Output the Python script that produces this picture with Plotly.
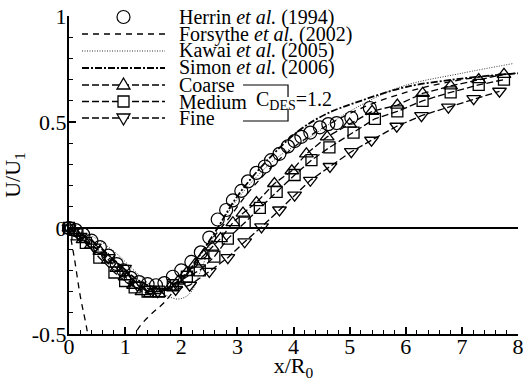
import plotly.graph_objects as go

# ---------------- data ----------------
herrin_x = [0, 0.12, 0.25, 0.4, 0.55, 0.7, 0.85, 0.97, 1.1, 1.25, 1.4, 1.55, 1.7, 1.85, 2.0, 2.18,
            2.35, 2.5, 2.65, 2.8, 2.92, 3.07, 3.19, 3.34, 3.49, 3.6, 3.75, 3.9, 4.02, 4.14, 4.3,
            4.47, 4.62, 4.77, 5.03, 5.36]
herrin_y = [0, -0.01, -0.03, -0.06, -0.09, -0.13, -0.17, -0.2, -0.235, -0.255, -0.265, -0.27, -0.26,
            -0.23, -0.2, -0.16, -0.115, -0.045, 0.04, 0.085, 0.13, 0.175, 0.22, 0.26, 0.29, 0.32,
            0.35, 0.385, 0.41, 0.43, 0.45, 0.475, 0.49, 0.495, 0.52, 0.566]

forsythe_x = [0, 0.1, 0.2, 0.3, 0.45, 0.7, 0.95, 1.22, 1.45, 1.7, 2.0, 2.4, 2.8, 3.3, 4.0, 5.0, 6.0, 7.0, 8.0]
forsythe_y = [0, -0.15, -0.32, -0.45, -0.65, -0.75, -0.66, -0.48, -0.41, -0.35, -0.25, -0.1, 0.03,
              0.2, 0.38, 0.54, 0.64, 0.7, 0.73]

kawai_x = [0, 0.2, 0.45, 0.8, 1.24, 1.5, 1.75, 1.95, 2.15, 2.35, 2.56, 2.8, 3.2, 3.7, 4.3, 5.0, 5.9, 7.0, 7.9]
kawai_y = [0, -0.02, -0.045, -0.11, -0.22, -0.28, -0.32, -0.335, -0.31, -0.2, -0.05, 0.06, 0.2, 0.33,
           0.43, 0.55, 0.665, 0.73, 0.775]

simon_x = [0, 0.4, 0.8, 1.2, 1.5, 1.75, 2.0, 2.3, 2.6, 3.0, 3.5, 4.1, 4.6, 5.2, 6.0, 7.0, 8.0]
simon_y = [0, -0.06, -0.15, -0.24, -0.28, -0.29, -0.25, -0.14, -0.02, 0.15, 0.31, 0.46, 0.54, 0.6,
           0.665, 0.705, 0.73]

coarse_x = [0, 0.1, 0.25, 0.4, 0.55, 0.7, 0.85, 1.0, 1.15, 1.3, 1.45, 1.6, 1.8, 1.95, 2.1, 2.25, 2.4,
            2.55, 2.7, 2.92, 3.1, 3.34, 3.66, 3.97, 4.23, 4.6, 5.0, 5.4, 5.85, 6.3, 6.8, 7.3, 7.75]
coarse_y = [0, -0.02, -0.055, -0.08, -0.11, -0.15, -0.19, -0.23, -0.27, -0.3, -0.31, -0.31, -0.28,
            -0.25, -0.21, -0.17, -0.13, -0.09, -0.05, 0.025, 0.07, 0.12, 0.21, 0.27, 0.35, 0.43, 0.49,
            0.55, 0.58, 0.635, 0.67, 0.7, 0.725]

medium_x = [0, 0.15, 0.3, 0.54, 0.81, 1.0, 1.17, 1.4, 1.6, 1.85, 2.1, 2.33, 2.59, 2.83, 3.13, 3.4,
            3.7, 4.02, 4.32, 4.64, 5.07, 5.45, 5.85, 6.3, 6.8, 7.3, 7.75]
medium_y = [0, -0.03, -0.07, -0.14, -0.21, -0.25, -0.28, -0.3, -0.3, -0.27, -0.23, -0.2, -0.135,
            -0.05, 0.025, 0.095, 0.17, 0.25, 0.32, 0.38, 0.45, 0.515, 0.55, 0.6, 0.64, 0.675, 0.7]

fine_x = [0, 0.2, 0.45, 0.7, 0.99, 1.22, 1.45, 1.58, 1.9, 2.15, 2.5, 2.83, 3.13, 3.43, 3.75, 4.02,
          4.3, 4.65, 5.03, 5.39, 5.84, 6.28, 6.76, 7.21, 7.67]
fine_y = [0, -0.04, -0.09, -0.14, -0.19, -0.27, -0.29, -0.3, -0.29, -0.27, -0.205, -0.14, -0.065,
          0.005, 0.085, 0.155, 0.225, 0.29, 0.36, 0.414, 0.48, 0.53, 0.57, 0.61, 0.645]

names = ["Herrin <i>et al.</i> (1994)", "Forsythe <i>et al.</i> (2002)", "Kawai <i>et al.</i> (2005)",
         "Simon <i>et al.</i> (2006)", "Coarse", "Medium", "Fine"]

FONT = "Times New Roman"

# styles
DASH_F = "6px,5px"
DASH_K = "1px,1.5px"
DASH_S = "7px,2px,2px,2px"
DASH_M = "7px,3px"

fig = go.Figure()

fig.add_trace(go.Scatter(x=herrin_x, y=herrin_y, mode="markers", name=names[0],
                         marker=dict(symbol="circle-open", size=13, color="black", line=dict(width=1.2)),
                         cliponaxis=False))
fig.add_trace(go.Scatter(x=forsythe_x, y=forsythe_y, mode="lines", name=names[1],
                         line=dict(color="black", width=1.3, dash=DASH_F, shape="spline")))
fig.add_trace(go.Scatter(x=kawai_x, y=kawai_y, mode="lines", name=names[2],
                         line=dict(color="#333333", width=1, dash=DASH_K, shape="spline")))
fig.add_trace(go.Scatter(x=simon_x, y=simon_y, mode="lines", name=names[3],
                         line=dict(color="black", width=1.8, dash=DASH_S, shape="spline")))
for xs, ys, nm, sym, sz in [(coarse_x, coarse_y, names[4], "triangle-up-open", 12),
                            (medium_x, medium_y, names[5], "square-open", 11),
                            (fine_x, fine_y, names[6], "triangle-down-open", 12)]:
    fig.add_trace(go.Scatter(x=xs, y=ys, mode="lines+markers", name=nm,
                             line=dict(color="black", width=1.3, dash=DASH_M),
                             marker=dict(symbol=sym, size=sz, color="black", line=dict(width=1.3)),
                             cliponaxis=False))

# ---------- legend drawn as layout decoration (plot area: 449 x 318 px at 69,16) ----------
def px(xp):
    return (xp - 69) / 449.0

def py(yp):
    return (334 - yp) / 318.0

rows = [17, 34, 51, 68, 85, 101.5, 118]
line_styles = [None, (DASH_F, 1.3, "black"), (DASH_K, 1, "#333333"), (DASH_S, 1.8, "black"),
               (DASH_M, 1.3, "black"), (DASH_M, 1.3, "black"), (DASH_M, 1.3, "black")]
marker_paths = ["circle", None, None, None,
                "M 0 7 L 6.5 -4 L -6.5 -4 Z",
                "M -5.5 -5.5 L 5.5 -5.5 L 5.5 5.5 L -5.5 5.5 Z",
                "M 0 -7 L 6.5 4 L -6.5 4 Z"]
for r, nm, ls, mp in zip(rows, names, line_styles, marker_paths):
    if ls is not None:
        fig.add_shape(type="line", xref="paper", yref="paper", x0=px(82), x1=px(165),
                      y0=py(r), y1=py(r), line=dict(color=ls[2], width=ls[1], dash=ls[0]))
    if mp == "circle":
        fig.add_shape(type="circle", xref="paper", yref="paper", xsizemode="pixel", ysizemode="pixel",
                      xanchor=px(123.5), yanchor=py(r), x0=-6.5, x1=6.5, y0=-6.5, y1=6.5,
                      line=dict(color="black", width=1.2), fillcolor="white")
    elif mp is not None:
        fig.add_shape(type="path", xref="paper", yref="paper", xsizemode="pixel", ysizemode="pixel",
                      xanchor=px(123.5), yanchor=py(r), path=mp,
                      line=dict(color="black", width=1.3), fillcolor="white")
    fig.add_annotation(xref="paper", yref="paper", x=px(177), y=py(r), xanchor="left", yanchor="middle",
                       text=nm, showarrow=False, font=dict(family=FONT, size=20, color="black"))

# bracket for C_DES
fig.add_shape(type="path", xref="paper", yref="paper",
              path=f"M {px(243):.4f} {py(85):.4f} L {px(288):.4f} {py(85):.4f} L {px(288):.4f} {py(97):.4f}",
              line=dict(color="black", width=1.2))
fig.add_shape(type="path", xref="paper", yref="paper",
              path=f"M {px(243):.4f} {py(121):.4f} L {px(288):.4f} {py(121):.4f} L {px(288):.4f} {py(109):.4f}",
              line=dict(color="black", width=1.2))
fig.add_annotation(xref="paper", yref="paper", x=px(254), y=py(100), xanchor="left", yanchor="middle",
                   text="C<sub>DES</sub>=1.2", showarrow=False,
                   font=dict(family=FONT, size=20, color="black"))

axis_common = dict(showline=True, linecolor="black", linewidth=2, mirror=False, showgrid=False,
                   ticks="inside", tickcolor="black", tickwidth=1.5, ticklen=7,
                   tickfont=dict(family=FONT, size=22, color="black"))

fig.update_xaxes(range=[0, 8], dtick=1, tick0=0, zeroline=False,
                 minor=dict(dtick=0.2, ticks="inside", ticklen=4, tickcolor="black", tickwidth=1),
                 ticklabelstandoff=-8,
                 title=dict(text="x/R<sub>0</sub>", font=dict(family=FONT, size=22, color="black"),
                            standoff=7),
                 **axis_common)
fig.update_yaxes(range=[-0.5, 1], tickvals=[-0.5, 0, 0.5, 1], ticktext=["-0.5", "0", "0.5", "1"],
                 zeroline=True, zerolinecolor="black", zerolinewidth=2,
                 minor=dict(dtick=0.1, ticks="inside", ticklen=4, tickcolor="black", tickwidth=1),
                 ticklabelstandoff=-4,
                 title=dict(text="U/U<sub>1</sub>", font=dict(family=FONT, size=22, color="black"),
                            standoff=6),
                 **axis_common)

fig.update_layout(
    width=524, height=381,
    margin=dict(l=69, r=6, t=16, b=47, autoexpand=False),
    paper_bgcolor="white", plot_bgcolor="white",
    font=dict(family=FONT, color="black"),
    showlegend=False,
)

fig.write_html("out.html", config={"displayModeBar": False},
               post_script="document.body.style.margin='0';document.body.style.padding='0';")
